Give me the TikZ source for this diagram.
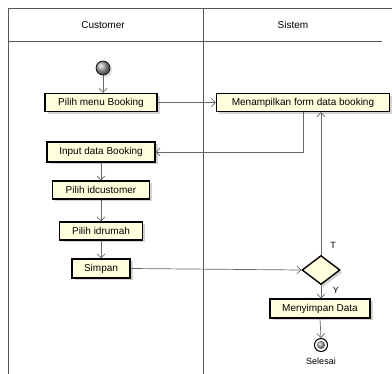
\documentclass[tikz,border=0pt]{standalone}
\usepackage{fontspec}
\setmainfont{Liberation Sans}
\usetikzlibrary{arrows.meta,shapes.geometric,shadows,calc}
\definecolor{actfill}{HTML}{FFFFDD}
\definecolor{lanecol}{HTML}{555555}
\definecolor{arrcol}{HTML}{666666}
\begin{document}
\begin{tikzpicture}[x=1pt,y=-1pt,
  font=\fontsize{10}{12}\selectfont,
  lane/.style={draw=lanecol,line width=0.9pt},
  act/.style={draw=black,line width=1.4pt,fill=actfill,minimum height=18pt,inner sep=1pt,
    drop shadow={shadow xshift=2.5pt,shadow yshift=-2.5pt,opacity=0.35}},
  dec/.style={diamond,draw=black,line width=1.4pt,fill=actfill,minimum width=38pt,minimum height=29pt,inner sep=0pt,aspect=1.3,
    drop shadow={shadow xshift=2.5pt,shadow yshift=-2.5pt,opacity=0.35}},
  arr/.style={draw=arrcol,line width=0.7pt,-{Straight Barb[length=4pt,width=8pt]}},
  lbl/.style={font=\fontsize{9}{10}\selectfont}
]
\useasboundingbox (0,0) rectangle (392,374);
% swimlanes
\draw[lane] (8,374) -- (8,8) -- (392,8);
\draw[lane] (203,8) -- (203,374);
\draw[lane] (8,41) -- (382,41);
\node (hc) at (103,25) {Customer};
\node (hs) at (293,25) {Sistem};
% start
\node[circle,draw=black,line width=0.6pt,ball color=gray!70,minimum size=14pt,inner sep=0pt,
  drop shadow={shadow xshift=2pt,shadow yshift=-2pt,opacity=0.3}] (start) at (103,68) {};
% activities
\node[act,minimum width=112pt] (pm) at (101,102.5) {Pilih menu Booking};
\node[act,minimum width=173pt] (mf) at (303,102.5) {Menampilkan form data booking};
\node[act,minimum width=108pt,minimum height=20pt] (inp) at (101,152) {Input data Booking};
\node[act,minimum width=97pt] (pc) at (101,190) {Pilih idcustomer};
\node[act,minimum width=83pt] (pr) at (101,231) {Pilih idrumah};
\node[act,minimum width=58pt,minimum height=19pt] (sim) at (101,268.5) {Simpan};
\node[dec] (d) at (321,270) {};
\node[act,minimum width=100pt,minimum height=19pt] (ms) at (320,308.5) {Menyimpan Data};
% end
\node[circle,draw=black,line width=1pt,minimum size=13pt,inner sep=0pt,fill=white] (end) at (321,345) {};
\node[circle,ball color=gray!70,minimum size=8pt,inner sep=0pt] (endin) at (321,345) {};
\node[lbl] (sel) at (321,361) {Selesai};
% connectors
\draw[arr] (start) -- (start |- pm.north);
\draw[arr] (pm.east) -- (mf.west);
\draw[arr] (mf.south) |- (inp.east);
\draw[arr] (inp.south) -- (pc.north);
\draw[arr] (pc.south) -- (pr.north);
\draw[arr] (pr.south) -- (sim.north);
\draw[arr] (sim.east) -- (d.west);
\draw[arr] (d.north) -- (d.north |- mf.south);
\node[lbl] (lt) at (333,245) {T};
\draw[arr] (d.south) -- (d.south |- ms.north);
\node[lbl] (ly) at (336,290) {Y};
\draw[arr] (ms.south) -- (end.north);
\end{tikzpicture}
\end{document}
